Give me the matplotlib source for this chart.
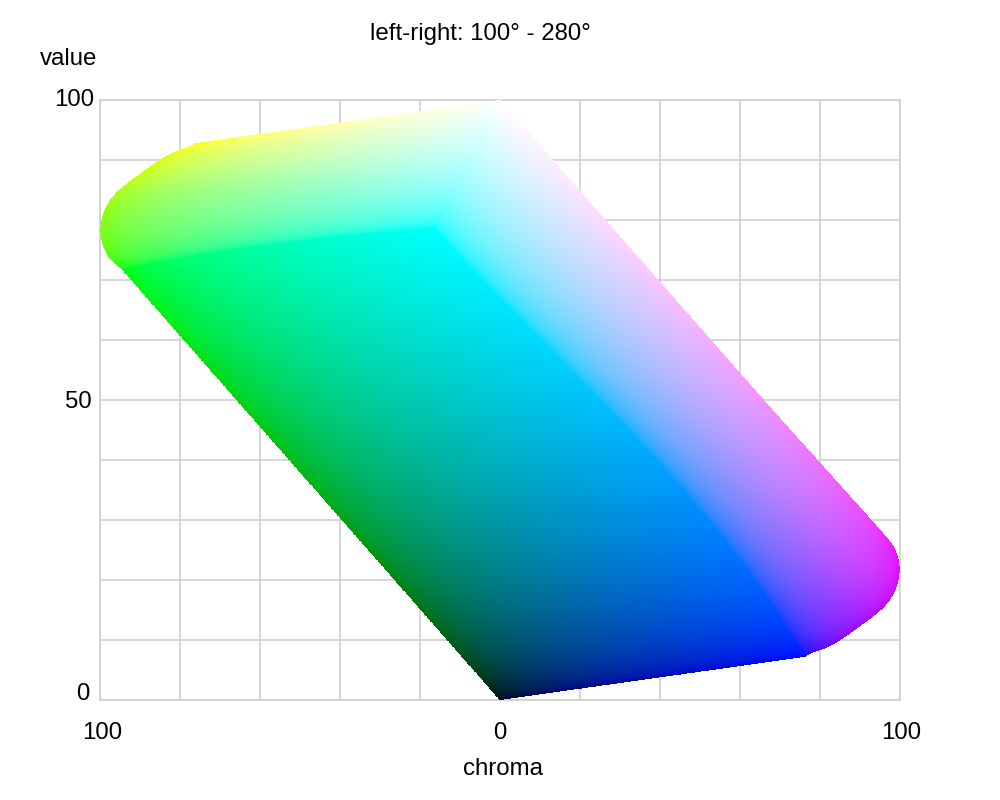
import numpy as np
import matplotlib
matplotlib.use("Agg")
import matplotlib.pyplot as plt
from matplotlib.transforms import ScaledTranslation

plt.rcParams['font.family'] = ['Liberation Sans', 'DejaVu Sans']

# cube corners: (signed chroma, value)
BLACK = (0.0, 0.0)
BLUE = (76.25, 7.2)
WHITE = (0.0, 100.0)
YELLOW = (-76.25, 92.8)
GREEN = (-94.5, 71.8)
MAGENTA = (94.5, 28.2)
CYAN = (-16.2, 78.8)

# curved silhouette between green and yellow / blue and magenta
green_yellow_x = [-94.5, -97.5, -99.5, -100.0, -99.5, -97.5, -94.1, -90.0, -85.0, -80.0, -76.25]
green_yellow_y = [71.8, 73.6, 76.7, 78.8, 80.5, 83.3, 85.5, 87.8, 90.0, 91.7, 92.8]
blue_magenta_x = [76.25, 80.0, 85.0, 90.0, 94.1, 97.5, 99.5, 100.0, 99.5, 97.5, 94.5]
blue_magenta_y = [7.2, 8.3, 10.0, 12.2, 14.5, 16.7, 19.5, 21.2, 23.3, 26.4, 28.2]
# bowed creases inside the solid
blue_cyan_x = [76.25, 63.25, 46.75, 25.75, 5.0, -16.2]
blue_cyan_y = [7.2, 21.2, 34.5, 48.8, 64.5, 78.8]
green_cyan_x = [-94.5, -65.0, -40.0, -16.2]
green_cyan_y = [71.8, 75.3, 77.3, 78.8]

x_ticks = [-100, -80, -60, -40, -20, 0, 20, 40, 60, 80, 100]
x_labels = ['100', '', '', '', '', '0', '', '', '', '', '100']
y_ticks = [0, 10, 20, 30, 40, 50, 60, 70, 80, 90, 100]
y_labels = ['0', '', '', '', '', '50', '', '', '', '', '100']

GAMMA = 0.5
N = 500


def edge(points, t):
    pts = np.asarray(points, float)
    d = np.r_[0, np.cumsum(np.hypot(*np.diff(pts, axis=0).T))]
    d /= d[-1]
    if len(pts) == 2:
        return np.c_[np.interp(t, d, pts[:, 0]), np.interp(t, d, pts[:, 1])]
    deg = 7 if len(pts) > 6 else 3
    w = np.ones(len(pts))
    w[[0, -1]] = 50
    fine = np.linspace(0, 1, 2000)
    cx = np.polyval(np.polyfit(d, pts[:, 0], deg, w=w), fine)
    cy = np.polyval(np.polyfit(d, pts[:, 1], deg, w=w), fine)
    dd = np.r_[0, np.cumsum(np.hypot(np.diff(cx), np.diff(cy)))]
    dd /= dd[-1]
    out = np.c_[np.interp(t, dd, cx), np.interp(t, dd, cy)]
    out[0], out[-1] = pts[0], pts[-1]
    return out


def face(p00, p10, p11, p01, c00, c10, c11, c01, bottom=None, top=None, left=None, right=None):
    """Coons patch over u,v: bottom p00-p10, top p01-p11."""
    s = np.linspace(0, 1, N + 1)
    bot = edge(bottom if bottom is not None else [p00, p10], s)
    tp = edge(top if top is not None else [p01, p11], s)
    lf = edge(left if left is not None else [p00, p01], s)
    rt = edge(right if right is not None else [p10, p11], s)
    U, V = np.meshgrid(s, s)
    P = []
    for k in range(2):
        ruled_v = (1 - V) * bot[:, k][None, :] + V * tp[:, k][None, :]
        ruled_u = (1 - U) * lf[:, k][:, None] + U * rt[:, k][:, None]
        bil = ((1 - U) * (1 - V) * p00[k] + U * (1 - V) * p10[k]
               + U * V * p11[k] + (1 - U) * V * p01[k])
        P.append(ruled_v + ruled_u - bil)
    m = 0.5 * (s[:-1] + s[1:])
    Um, Vm = np.meshgrid(m, m)
    Um, Vm = Um ** GAMMA, Vm ** GAMMA
    C = np.zeros((N, N, 3))
    for k in range(3):
        C[..., k] = ((1 - Um) * (1 - Vm) * c00[k] + Um * (1 - Vm) * c10[k]
                     + Um * Vm * c11[k] + (1 - Um) * Vm * c01[k])
    return P[0], P[1], np.clip(C, 0, 1)


fig = plt.figure(figsize=(10, 8), dpi=100)
ax = fig.add_axes([0.1, 0.125, 0.8, 0.75])
ax.set_xlim(-100, 100)
ax.set_ylim(0, 100)
ax.set_axisbelow(True)
ax.grid(True, color='#cccccc', linewidth=1.08)
ax.set_xticks(x_ticks, x_labels)
ax.set_yticks(y_ticks, y_labels)
ax.tick_params(length=0, labelsize=17.3, labelcolor='black', pad=3.8)
for s in ax.spines.values():
    s.set_color('#cccccc')
    s.set_linewidth(1.08)

RGB = dict(k=(0, 0, 0), b=(0, 0, 1), g=(0, 1, 0), c=(0, 1, 1),
           y=(1, 1, 0), w=(1, 1, 1), m=(1, 0, 1))
blue_cyan = list(zip(blue_cyan_x, blue_cyan_y))
green_cyan = list(zip(green_cyan_x, green_cyan_y))
faces = [
    face(BLACK, BLUE, CYAN, GREEN, RGB['k'], RGB['b'], RGB['c'], RGB['g'],
         right=blue_cyan, top=green_cyan),
    face(GREEN, YELLOW, WHITE, CYAN, RGB['g'], RGB['y'], RGB['w'], RGB['c'],
         bottom=list(zip(green_yellow_x, green_yellow_y)), left=green_cyan),
    face(BLUE, MAGENTA, WHITE, CYAN, RGB['b'], RGB['m'], RGB['w'], RGB['c'],
         bottom=list(zip(blue_magenta_x, blue_magenta_y)), left=blue_cyan),
]
for X, Y, C in faces:
    ax.pcolormesh(X, Y, C, shading='flat', antialiased=False, edgecolors='none',
                  rasterized=True, zorder=3)

shift_y = {0: (-5, 8), 5: (-3, 1), 10: (0, 3)}
for i, lab in enumerate(ax.get_yticklabels()):
    dx, dy = shift_y.get(i, (0, 0))
    lab.set_transform(lab.get_transform() + ScaledTranslation(dx / 100, dy / 100, fig.dpi_scale_trans))
for lab, dx in zip(ax.get_xticklabels(), [2, 0, 0, 0, 0, 0, 0, 0, 0, 0, 1]):
    lab.set_transform(lab.get_transform() + ScaledTranslation(dx / 100, -17 / 100, fig.dpi_scale_trans))

fig.text(0.4805, 0.9575, 'left-right: 100° - 280°', ha='center', va='center', fontsize=17.3)
fig.text(0.0685, 0.9265, 'value', ha='center', va='center', fontsize=17.3)
fig.text(0.503, 0.0385, 'chroma', ha='center', va='center', fontsize=17.3)
fig.savefig('out.png', dpi=100)
